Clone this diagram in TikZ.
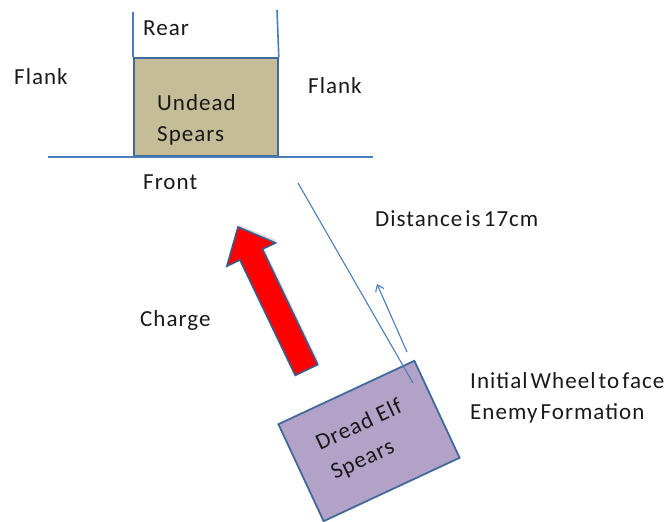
\documentclass[tikz,border=0pt]{standalone}
\usepackage{fontspec}
\setmainfont[WordSpace=0.5,LetterSpace=4.5]{Carlito}
\usetikzlibrary{arrows.meta}
\definecolor{lineblue}{HTML}{4A7EBB}
\definecolor{edgeblue}{HTML}{41699A}
\definecolor{tan}{HTML}{C4BD97}
\definecolor{lav}{HTML}{B3A2C7}
\definecolor{arrowedge}{HTML}{385D8A}
\tikzset{
  x=1pt,y=1pt,
  lbl/.style={font=\fontsize{23}{27}\selectfont, text=black!90, inner sep=0pt, anchor=base west},
  thinline/.style={draw=lineblue, line width=1.1pt},
  mainline/.style={draw=lineblue, line width=1.6pt},
}
\begin{document}
\begin{tikzpicture}
\useasboundingbox (0,0) rectangle (670,522);
% enemy unit frame
\node[draw=edgeblue, line width=1.8pt, fill=tan, minimum width=144pt, minimum height=98pt, inner sep=0pt, anchor=south west] (undead) at (133,365) {};
\coordinate (lt) at (133,510);
\coordinate (rt) at (277,512);
\coordinate (hl) at (48,365);
\coordinate (hr) at (373,365);
\draw[mainline] (lt) -- (undead.north west);
\draw[mainline] (rt) -- (undead.north east);
\draw[mainline] (hl) -- (hr);
% labels
\node[lbl] (rear) at (143,486) {Rear};
\node[lbl] (flankl) at (14,437) {Flank};
\node[lbl] (flankr) at (308,428) {Flank};
\node[lbl] (undeadt) at (157,411) {Undead};
\node[lbl] (spearst) at (157,380) {Spears};
\node[lbl] (front) at (143,332) {Front};
\node[lbl] (charge) at (140,195) {Charge};
\node[lbl] (dist) at (375,295) {Distance is 17cm};
\node[lbl] (wheel) at (470,133) {Initial Wheel to face};
\node[lbl] (enemy) at (470,102) {Enemy Formation};
% dread elf unit
\node[draw=edgeblue, line width=1.8pt, fill=lav, minimum width=150pt, minimum height=107pt, inner sep=0pt, rotate=25] (elf) at (369,81) {};
\node[lbl, rotate=25] (elft1) at (320,71) {Dread\hspace{6pt}Elf};
\node[lbl, rotate=25] (elft2) at (335,42) {Spears};
% distance line and wheel arrow
\coordinate (d1) at (298,339);
\coordinate (d2) at (413,139);
\draw[thinline] (d1) -- (d2);
\coordinate (w1) at (407,170);
\coordinate (w2) at (377,238);
\draw[thinline, -{Straight Barb[length=6pt,width=9pt]}] (w1) -- (w2);
% charge arrow
\begin{scope}[shift={(306.5,152)}, rotate=115.6]
\fill[black!25, opacity=0.5] (1.5,-14.5) -- (130,-14.5) -- (130,-29) -- (160,-2) -- (130,25) -- (130,10.5) -- (1.5,10.5) -- cycle;
\draw[draw=arrowedge, line width=1.6pt, fill=red, line join=miter] (0,-12.5) -- (128,-12.5) -- (128,-27) -- (158.6,0) -- (128,27) -- (128,12.5) -- (0,12.5) -- cycle;
\end{scope}
\end{tikzpicture}
\end{document}
